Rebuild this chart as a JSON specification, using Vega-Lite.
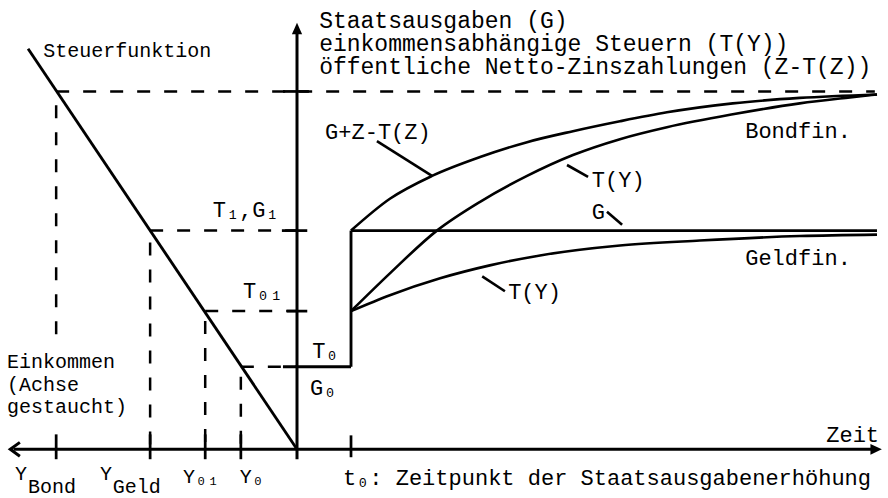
{
  "$schema": "https://vega.github.io/schema/vega-lite/v6.json",
  "width": 888,
  "height": 498,
  "autosize": {"type": "fit", "contains": "padding"},
  "padding": 0,
  "background": "white",
  "config": {"view": {"stroke": null}},
  "datasets": {
    "dashed": [
      {"x": -4.46, "y": 36.0, "x2": 10.7, "y2": 36.0},
      {"x": -2.72, "y": 22.0, "x2": 0, "y2": 22.0},
      {"x": -1.70, "y": 13.9, "x2": 0, "y2": 13.9},
      {"x": -1.04, "y": 8.3, "x2": 0, "y2": 8.3},
      {"x": -4.46, "y": 34.6, "x2": -4.46, "y2": 10.9},
      {"x": -2.72, "y": 20.8, "x2": -2.72, "y2": 0},
      {"x": -1.70, "y": 12.9, "x2": -1.70, "y2": 0},
      {"x": -1.04, "y": 7.3, "x2": -1.04, "y2": 0}
    ],
    "solid": [
      {"kind": "axis", "x": -5.25, "y": 0, "x2": 10.7, "y2": 0},
      {"kind": "axis", "x": 0, "y": -1.0, "x2": 0, "y2": 42.3},
      {"kind": "line", "x": -4.98, "y": 40.3, "x2": 0, "y2": 0},
      {"kind": "line", "x": -0.26, "y": 8.3, "x2": 1.0, "y2": 8.3},
      {"kind": "line", "x": 1.0, "y": 8.3, "x2": 1.0, "y2": 22.0},
      {"kind": "line", "x": 1.0, "y": 22.0, "x2": 10.74, "y2": 22.0},
      {"kind": "tick", "x": -0.26, "y": 36.0, "x2": 0.22, "y2": 36.0},
      {"kind": "tick", "x": -0.28, "y": 22.0, "x2": 0.19, "y2": 22.0},
      {"kind": "tick", "x": -0.19, "y": 13.9, "x2": 0.19, "y2": 13.9},
      {"kind": "tick", "x": -4.46, "y": -1.0, "x2": -4.46, "y2": 1.5},
      {"kind": "tick", "x": -2.72, "y": -1.0, "x2": -2.72, "y2": 1.5},
      {"kind": "tick", "x": -1.70, "y": -1.0, "x2": -1.70, "y2": 1.5},
      {"kind": "tick", "x": -1.04, "y": -1.0, "x2": -1.04, "y2": 1.5},
      {"kind": "tick", "x": 1.0, "y": -0.8, "x2": 1.0, "y2": 1.4},
      {"kind": "pointer", "x": 1.48, "y": 31.0, "x2": 2.5, "y2": 27.5},
      {"kind": "pointer", "x": 5.0, "y": 28.6, "x2": 5.39, "y2": 27.4},
      {"kind": "pointer", "x": 5.74, "y": 23.9, "x2": 6.02, "y2": 22.6},
      {"kind": "pointer", "x": 3.43, "y": 17.4, "x2": 3.85, "y2": 15.9}
    ],
    "curves": [
      {"series": "G+Z-T(Z)", "x": 1.0, "y": 22.0},
      {"series": "G+Z-T(Z)", "x": 1.72, "y": 25.2},
      {"series": "G+Z-T(Z)", "x": 2.5, "y": 27.5},
      {"series": "G+Z-T(Z)", "x": 3.39, "y": 29.4},
      {"series": "G+Z-T(Z)", "x": 4.26, "y": 30.9},
      {"series": "G+Z-T(Z)", "x": 5.11, "y": 32.0},
      {"series": "G+Z-T(Z)", "x": 5.98, "y": 33.0},
      {"series": "G+Z-T(Z)", "x": 6.85, "y": 33.9},
      {"series": "G+Z-T(Z)", "x": 8.07, "y": 34.8},
      {"series": "G+Z-T(Z)", "x": 9.31, "y": 35.35},
      {"series": "G+Z-T(Z)", "x": 10.74, "y": 35.7},
      {"series": "T(Y) Bondfin.", "x": 1.0, "y": 13.9},
      {"series": "T(Y) Bondfin.", "x": 1.72, "y": 17.7},
      {"series": "T(Y) Bondfin.", "x": 2.59, "y": 22.0},
      {"series": "T(Y) Bondfin.", "x": 3.39, "y": 24.9},
      {"series": "T(Y) Bondfin.", "x": 4.26, "y": 27.5},
      {"series": "T(Y) Bondfin.", "x": 5.11, "y": 29.6},
      {"series": "T(Y) Bondfin.", "x": 5.98, "y": 31.2},
      {"series": "T(Y) Bondfin.", "x": 6.85, "y": 32.4},
      {"series": "T(Y) Bondfin.", "x": 8.07, "y": 33.7},
      {"series": "T(Y) Bondfin.", "x": 9.31, "y": 34.8},
      {"series": "T(Y) Bondfin.", "x": 10.24, "y": 35.4},
      {"series": "T(Y) Bondfin.", "x": 10.74, "y": 35.7},
      {"series": "T(Y) Geldfin.", "x": 1.0, "y": 13.9},
      {"series": "T(Y) Geldfin.", "x": 1.72, "y": 15.5},
      {"series": "T(Y) Geldfin.", "x": 2.65, "y": 17.2},
      {"series": "T(Y) Geldfin.", "x": 3.57, "y": 18.5},
      {"series": "T(Y) Geldfin.", "x": 4.5, "y": 19.5},
      {"series": "T(Y) Geldfin.", "x": 5.98, "y": 20.5},
      {"series": "T(Y) Geldfin.", "x": 7.46, "y": 21.0},
      {"series": "T(Y) Geldfin.", "x": 9.31, "y": 21.45},
      {"series": "T(Y) Geldfin.", "x": 10.74, "y": 21.6}
    ],
    "arrows": [
      {"dir": "up", "x": 0, "y": 42.9},
      {"dir": "right", "x": 10.83, "y": 0},
      {"dir": "left", "x": -5.31, "y": 0}
    ],
    "labels": [
      {"size": "L", "x": 0.41, "y": 42.4, "text": "Staatsausgaben (G)"},
      {"size": "L", "x": 0.41, "y": 40.1, "text": "einkommensabhängige Steuern (T(Y))"},
      {"size": "L", "x": 0.41, "y": 37.8, "text": "öffentliche Netto-Zinszahlungen (Z-T(Z))"},
      {"size": "M", "x": 0.52, "y": 31.2, "text": "G+Z-T(Z)"},
      {"size": "M", "x": 5.46, "y": 26.4, "text": "T(Y)"},
      {"size": "M", "x": 5.46, "y": 23.2, "text": "G"},
      {"size": "M", "x": 8.3, "y": 31.3, "text": "Bondfin."},
      {"size": "M", "x": 8.3, "y": 18.5, "text": "Geldfin."},
      {"size": "M", "x": 3.91, "y": 15.1, "text": "T(Y)"},
      {"size": "M", "x": -1.56, "y": 23.4, "text": "T₁,G₁"},
      {"size": "M", "x": -1.0, "y": 15.2, "text": "T₀₁"},
      {"size": "M", "x": 0.28, "y": 9.2, "text": "T₀"},
      {"size": "M", "x": 0.24, "y": 5.5, "text": "G₀"},
      {"size": "M", "x": 0.85, "y": -3.6, "text": "t₀: Zeitpunkt der Staatsausgabenerhöhung"},
      {"size": "M", "x": 9.8, "y": 0.7, "text": "Zeit"},
      {"size": "S", "x": -4.70, "y": 39.5, "text": "Steuerfunktion"},
      {"size": "S", "x": -5.37, "y": 8.2, "text": "Einkommen"},
      {"size": "S", "x": -5.37, "y": 5.9, "text": "(Achse"},
      {"size": "S", "x": -5.37, "y": 3.6, "text": "gestaucht)"},
      {"size": "S", "x": -5.22, "y": -3.1, "text": "Y"},
      {"size": "S", "x": -4.98, "y": -4.4, "text": "Bond"},
      {"size": "S", "x": -3.65, "y": -3.1, "text": "Y"},
      {"size": "S", "x": -3.41, "y": -4.4, "text": "Geld"},
      {"size": "S", "x": -2.11, "y": -3.4, "text": "Y₀₁"},
      {"size": "S", "x": -1.06, "y": -3.4, "text": "Y₀"}
    ]
  },
  "layer": [
    {
      "data": {"name": "dashed"},
      "mark": {"type": "rule", "color": "black", "strokeWidth": 2.5, "strokeDash": [13, 14]},
      "encoding": {
        "x": {"field": "x", "type": "quantitative", "scale": {"domain": [-5.5, 10.944], "nice": false, "zero": false}, "axis": null},
        "y": {"field": "y", "type": "quantitative", "scale": {"domain": [-4.6, 45.2], "nice": false, "zero": false}, "axis": null},
        "x2": {"field": "x2"},
        "y2": {"field": "y2"}
      }
    },
    {
      "data": {"name": "solid"},
      "mark": {"type": "rule", "color": "black", "strokeCap": "butt"},
      "encoding": {
        "x": {"field": "x", "type": "quantitative", "scale": {"domain": [-5.5, 10.944], "nice": false, "zero": false}, "axis": null},
        "y": {"field": "y", "type": "quantitative", "scale": {"domain": [-4.6, 45.2], "nice": false, "zero": false}, "axis": null},
        "x2": {"field": "x2"},
        "y2": {"field": "y2"},
        "strokeWidth": {"field": "kind", "type": "nominal", "scale": {"domain": ["axis", "line", "tick", "pointer"], "range": [3, 2.6, 2.6, 2]}, "legend": null}
      }
    },
    {
      "data": {"name": "curves"},
      "mark": {"type": "line", "color": "black", "strokeWidth": 2.6, "interpolate": "monotone"},
      "encoding": {
        "x": {"field": "x", "type": "quantitative", "scale": {"domain": [-5.5, 10.944], "nice": false, "zero": false}, "axis": null},
        "y": {"field": "y", "type": "quantitative", "scale": {"domain": [-4.6, 45.2], "nice": false, "zero": false}, "axis": null},
        "detail": {"field": "series", "type": "nominal"},
        "order": {"field": "x", "type": "quantitative"}
      }
    },
    {
      "data": {"name": "arrows"},
      "transform": [{"filter": "datum.dir === 'up'"}],
      "mark": {"type": "point", "filled": true, "color": "black", "opacity": 1, "size": 36, "shape": "M0,0L1.7,3.8L-1.7,3.8Z"},
      "encoding": {
        "x": {"field": "x", "type": "quantitative", "scale": {"domain": [-5.5, 10.944], "nice": false, "zero": false}, "axis": null},
        "y": {"field": "y", "type": "quantitative", "scale": {"domain": [-4.6, 45.2], "nice": false, "zero": false}, "axis": null}
      }
    },
    {
      "data": {"name": "arrows"},
      "transform": [{"filter": "datum.dir === 'right'"}],
      "mark": {"type": "point", "filled": true, "color": "black", "opacity": 1, "size": 36, "shape": "M0,0L-3.8,-1.8L-3.8,1.8Z"},
      "encoding": {
        "x": {"field": "x", "type": "quantitative", "scale": {"domain": [-5.5, 10.944], "nice": false, "zero": false}, "axis": null},
        "y": {"field": "y", "type": "quantitative", "scale": {"domain": [-4.6, 45.2], "nice": false, "zero": false}, "axis": null}
      }
    },
    {
      "data": {"name": "arrows"},
      "transform": [{"filter": "datum.dir === 'left'"}],
      "mark": {"type": "point", "filled": false, "color": "black", "opacity": 1, "strokeWidth": 3, "size": 36, "shape": "M3.2,-2.3L0,0L3.2,2.3"},
      "encoding": {
        "x": {"field": "x", "type": "quantitative", "scale": {"domain": [-5.5, 10.944], "nice": false, "zero": false}, "axis": null},
        "y": {"field": "y", "type": "quantitative", "scale": {"domain": [-4.6, 45.2], "nice": false, "zero": false}, "axis": null}
      }
    },
    {
      "data": {"name": "labels"},
      "transform": [{"filter": "datum.size === 'L'"}],
      "mark": {"type": "text", "align": "left", "baseline": "alphabetic", "font": "Liberation Mono", "fontSize": 23, "color": "black"},
      "encoding": {
        "x": {"field": "x", "type": "quantitative", "scale": {"domain": [-5.5, 10.944], "nice": false, "zero": false}, "axis": null},
        "y": {"field": "y", "type": "quantitative", "scale": {"domain": [-4.6, 45.2], "nice": false, "zero": false}, "axis": null},
        "text": {"field": "text", "type": "nominal"}
      }
    },
    {
      "data": {"name": "labels"},
      "transform": [{"filter": "datum.size === 'M'"}],
      "mark": {"type": "text", "align": "left", "baseline": "alphabetic", "font": "Liberation Mono", "fontSize": 22, "color": "black"},
      "encoding": {
        "x": {"field": "x", "type": "quantitative", "scale": {"domain": [-5.5, 10.944], "nice": false, "zero": false}, "axis": null},
        "y": {"field": "y", "type": "quantitative", "scale": {"domain": [-4.6, 45.2], "nice": false, "zero": false}, "axis": null},
        "text": {"field": "text", "type": "nominal"}
      }
    },
    {
      "data": {"name": "labels"},
      "transform": [{"filter": "datum.size === 'S'"}],
      "mark": {"type": "text", "align": "left", "baseline": "alphabetic", "font": "Liberation Mono", "fontSize": 20, "color": "black"},
      "encoding": {
        "x": {"field": "x", "type": "quantitative", "scale": {"domain": [-5.5, 10.944], "nice": false, "zero": false}, "axis": null},
        "y": {"field": "y", "type": "quantitative", "scale": {"domain": [-4.6, 45.2], "nice": false, "zero": false}, "axis": null},
        "text": {"field": "text", "type": "nominal"}
      }
    }
  ]
}
